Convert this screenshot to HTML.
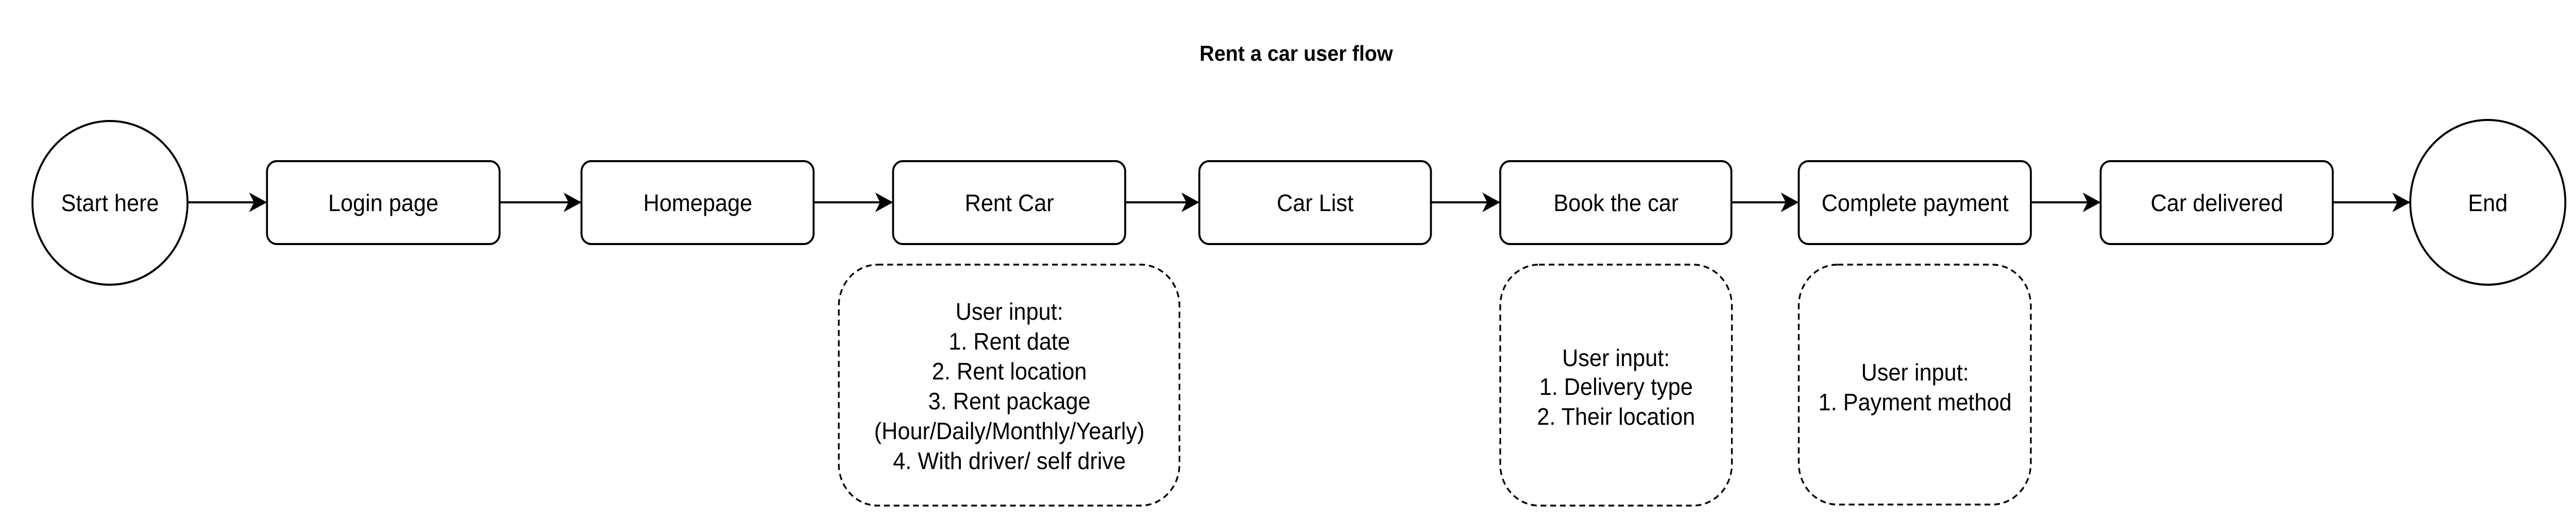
<!DOCTYPE html>
<html><head><meta charset="utf-8"><style>
html,body{margin:0;padding:0;background:#fff;width:100%;height:100%;overflow:hidden;}
svg{display:block;position:fixed;left:0;top:0;width:100vw;height:100vh;}
text{font-family:"Liberation Sans",Arial,sans-serif;fill:#000;}
</style></head><body>
<svg viewBox="0 0 5316 1010" preserveAspectRatio="none" xmlns="http://www.w3.org/2000/svg">
<defs>
<marker id="a" markerUnits="userSpaceOnUse" markerWidth="40" markerHeight="40" refX="37" refY="19" orient="auto">
<path d="M0,0 L37,19 L0,38 L10,19 Z" fill="#000"/>
</marker>
</defs>
<text x="2675" y="118" font-size="42" font-weight="bold" text-anchor="middle">Rent a car user flow</text>

<g fill="#fff" stroke="#000" stroke-width="4">
<ellipse cx="227" cy="394" rx="160" ry="159"/>
<rect x="551" y="313" width="480" height="161" rx="20"/>
<rect x="1200" y="313" width="479" height="161" rx="20"/>
<rect x="1843" y="313" width="479" height="161" rx="20"/>
<rect x="2475" y="313" width="478" height="161" rx="20"/>
<rect x="3096" y="313" width="477" height="161" rx="20"/>
<rect x="3712" y="313" width="479" height="161" rx="20"/>
<rect x="4335" y="313" width="479" height="161" rx="20"/>
<ellipse cx="5134" cy="393" rx="160" ry="160"/>
</g>
<g fill="none" stroke="#000" stroke-width="3.5" stroke-dasharray="12 8">
<rect x="1731" y="514" width="703" height="468" rx="80"/>
<rect x="3096" y="514" width="478" height="468" rx="80"/>
<rect x="3712" y="514" width="479" height="466" rx="80"/>
</g>
<g stroke="#000" stroke-width="4" marker-end="url(#a)">
<line x1="387" y1="393" x2="551" y2="393"/>
<line x1="1031" y1="393" x2="1200" y2="393"/>
<line x1="1679" y1="393" x2="1843" y2="393"/>
<line x1="2322" y1="393" x2="2475" y2="393"/>
<line x1="2953" y1="393" x2="3096" y2="393"/>
<line x1="3573" y1="393" x2="3712" y2="393"/>
<line x1="4191" y1="393" x2="4335" y2="393"/>
<line x1="4814" y1="393" x2="4974" y2="393"/>
</g>
<g font-size="46" text-anchor="middle">
<text x="227" y="410">Start here</text>
<text x="791" y="410">Login page</text>
<text x="1440" y="410">Homepage</text>
<text x="2083" y="410">Rent Car</text>
<text x="2714" y="410">Car List</text>
<text x="3335" y="410">Book the car</text>
<text x="3952" y="410">Complete payment</text>
<text x="4575" y="410">Car delivered</text>
<text x="5134" y="410">End</text>
<text x="2083" y="621">User input:</text>
<text x="2083" y="679">1. Rent date</text>
<text x="2083" y="737">2. Rent location</text>
<text x="2083" y="795">3. Rent package</text>
<text x="2083" y="853">(Hour/Daily/Monthly/Yearly)</text>
<text x="2083" y="911">4. With driver/ self drive</text>
<text x="3335" y="711">User input:</text>
<text x="3335" y="767">1. Delivery type</text>
<text x="3335" y="825">2. Their location</text>
<text x="3952" y="739">User input:</text>
<text x="3952" y="797">1. Payment method</text>
</g>
</svg>
</body></html>
